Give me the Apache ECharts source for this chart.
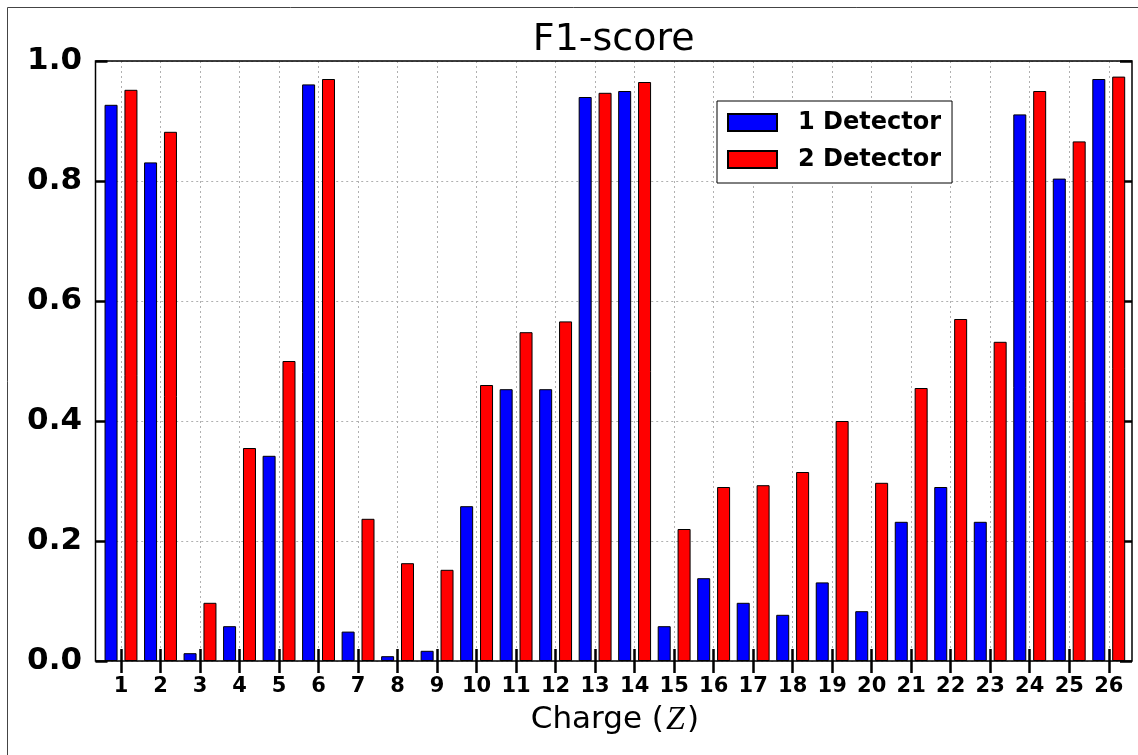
<!DOCTYPE html>
<html>
<head>
<meta charset="utf-8">
<title>F1-score</title>
<script src="https://cdn.jsdelivr.net/npm/echarts@6/dist/echarts.min.js"></script>
<style>
  html, body { margin: 0; padding: 0; background: #ffffff; }
  #chart { width: 1138px; height: 755px; }
</style>
</head>
<body>
<div id="chart"></div>
<script>
// Charge Z of each class
const charges = ['1', '2', '3', '4', '5', '6', '7', '8', '9', '10', '11', '12', '13',
                 '14', '15', '16', '17', '18', '19', '20', '21', '22', '23', '24', '25', '26'];

// F1-score per charge, one detector
const oneDetector = [0.927, 0.831, 0.013, 0.058, 0.342, 0.961, 0.049, 0.008, 0.017, 0.258,
                     0.453, 0.453, 0.940, 0.950, 0.058, 0.138, 0.097, 0.077, 0.131, 0.083,
                     0.232, 0.290, 0.232, 0.911, 0.804, 0.970];

// F1-score per charge, two detectors
const twoDetector = [0.952, 0.882, 0.097, 0.355, 0.500, 0.970, 0.237, 0.163, 0.152, 0.460,
                     0.548, 0.566, 0.947, 0.965, 0.220, 0.290, 0.293, 0.315, 0.400, 0.297,
                     0.455, 0.570, 0.532, 0.950, 0.866, 0.974];

const seriesNames = ['1 Detector', '2 Detector'];
const yTickValues = [0, 0.2, 0.4, 0.6, 0.8, 1.0];

const FONT = 'DejaVu Sans';

// plot frame (spines) and category band layout
const frame = { left: 95.5, right: 1132, top: 61, bottom: 661 };
const band = 39.51;
const firstTick = 121;
const gridLeft = firstTick - band / 2;
const gridWidth = band * charges.length;

const tickStyle = { color: '#000', width: 2.5 };
const gridLineStyle = { color: '#b0b0b0', width: 1, type: [2, 3] };

const chart = echarts.init(document.getElementById('chart'), null, { renderer: 'canvas' });

chart.setOption({
  animation: false,
  backgroundColor: '#ffffff',
  title: {
    text: 'F1-score',
    left: (frame.left + frame.right) / 2,
    top: 21,
    padding: 0,
    textAlign: 'center',
    textStyle: { fontFamily: FONT, fontSize: 38, fontWeight: 'normal', color: '#000' }
  },
  legend: {
    orient: 'vertical',
    left: 717,
    top: 101,
    padding: [9.5, 11, 11.5, 10],
    itemWidth: 49,
    itemHeight: 17,
    itemGap: 13,
    icon: 'rect',
    borderColor: '#000',
    borderWidth: 1,
    backgroundColor: '#fff',
    data: seriesNames,
    textStyle: {
      fontFamily: FONT, fontSize: 24, fontWeight: 'bold', color: '#000',
      padding: [0, 0, 0, 16]
    }
  },
  grid: {
    left: gridLeft,
    top: frame.top,
    width: gridWidth,
    height: frame.bottom - frame.top,
    containLabel: false
  },
  xAxis: [
    {
      type: 'category',
      position: 'bottom',
      data: charges,
      boundaryGap: true,
      axisLine: { show: false },
      axisTick: { show: true, inside: true, length: 12, alignWithLabel: true, interval: 0, lineStyle: tickStyle },
      axisLabel: {
        interval: 0, margin: 15,
        fontFamily: FONT, fontSize: 21, fontWeight: 'bold', color: '#000'
      },
      // vertical grid lines sit on the ticks, between the two bars of a charge
      splitLine: { show: true, alignWithLabel: true, interval: 0, lineStyle: gridLineStyle },
      name: '{t|Charge (}{z|Z}{t|)}',
      nameLocation: 'middle',
      nameGap: 42,
      nameTextStyle: {
        rich: {
          t: { fontFamily: FONT, fontSize: 31, color: '#000' },
          z: { fontFamily: 'Liberation Serif', fontStyle: 'italic', fontSize: 34, color: '#000', padding: [0, 2, 0, 2] }
        }
      }
    },
    {
      type: 'category',
      position: 'top',
      data: charges,
      boundaryGap: true,
      axisLine: { show: false },
      axisTick: { show: true, inside: true, length: 12, alignWithLabel: true, interval: 0, lineStyle: tickStyle },
      axisLabel: { show: false },
      splitLine: { show: false }
    }
  ],
  yAxis: [
    {
      type: 'value',
      position: 'left',
      min: 0,
      max: 1,
      interval: 0.2,
      offset: gridLeft - frame.left,
      axisLine: { show: false },
      axisTick: { show: true, inside: true, length: 12, lineStyle: tickStyle },
      axisLabel: {
        margin: 13.5,
        fontFamily: FONT, fontSize: 31, fontWeight: 'bold', color: '#000',
        customValues: yTickValues,
        formatter: v => v.toFixed(1)
      },
      splitLine: { show: true, lineStyle: gridLineStyle }
    },
    {
      type: 'value',
      position: 'right',
      min: 0,
      max: 1,
      interval: 0.2,
      offset: frame.right - (gridLeft + gridWidth),
      axisLine: { show: false },
      axisTick: { show: true, inside: true, length: 12, lineStyle: tickStyle },
      axisLabel: { show: false },
      splitLine: { show: false }
    }
  ],
  series: [
    {
      name: seriesNames[0],
      type: 'bar',
      xAxisIndex: 0,
      yAxisIndex: 0,
      data: oneDetector,
      barWidth: 13,
      barGap: '53%',
      itemStyle: { color: '#0000ff', borderColor: '#000', borderWidth: 1 }
    },
    {
      name: seriesNames[1],
      type: 'bar',
      xAxisIndex: 0,
      yAxisIndex: 0,
      data: twoDetector,
      barWidth: 13,
      barGap: '53%',
      itemStyle: { color: '#ff0000', borderColor: '#000', borderWidth: 1 }
    }
  ],
  graphic: [
    {
      // figure border
      type: 'rect',
      z: 0,
      silent: true,
      shape: { x: 7.5, y: 7.5, width: 1200, height: 800 },
      style: { fill: null, stroke: '#444', lineWidth: 1 }
    },
    {
      // axes spines
      type: 'rect',
      z: 100,
      silent: true,
      shape: {
        x: frame.left, y: frame.top,
        width: frame.right - frame.left, height: frame.bottom - frame.top
      },
      style: { fill: null, stroke: '#000', lineWidth: 1.5 }
    }
  ]
});
</script>
</body>
</html>
